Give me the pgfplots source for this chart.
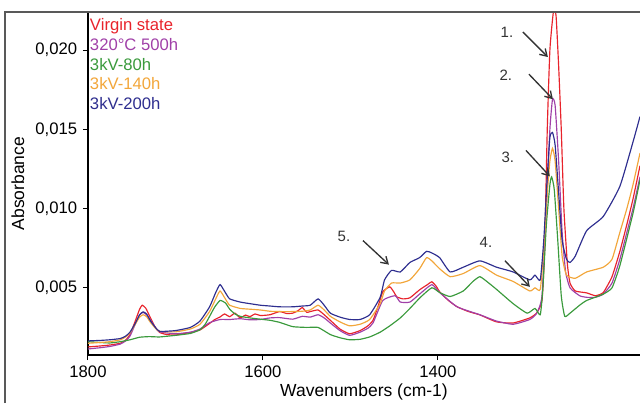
\documentclass[border=0pt]{standalone}
\usepackage{fontspec}
\setmainfont{Liberation Sans}
\usepackage{pgfplots}
\pgfplotsset{compat=1.18}
\usetikzlibrary{arrows.meta}

\definecolor{cRed}{HTML}{E8232B}
\definecolor{cPurple}{HTML}{A040A8}
\definecolor{cGreen}{HTML}{3A9A3C}
\definecolor{cOrange}{HTML}{F2A63A}
\definecolor{cBlue}{HTML}{2E2E8F}
\definecolor{cInk}{HTML}{333333}

\begin{document}
\begin{tikzpicture}
\begin{axis}[
  scale only axis, width=331.2pt, height=205.8pt,
  x dir=reverse, xmin=1169, xmax=1800, ymin=0.00076, ymax=0.0224,
  axis x line*=bottom, axis y line*=left,
  axis line style={line width=1.1pt, black},
  xtick={1400,1600,1800}, ytick={0.005,0.010,0.015,0.020},
  tick align=outside, major tick length=3pt,
  tick style={black, line width=0.6pt},
  /pgf/number format/assume math mode=true,
  tick label style={font=\fontsize{10}{12}\selectfont},
  x tick label style={/pgf/number format/set thousands separator={}},
  y tick label style={/pgf/number format/.cd, fixed, fixed zerofill, precision=3, use comma},
  scaled y ticks=false,
  xlabel={Wavenumbers (cm-1)}, ylabel={Absorbance},
  label style={font=\fontsize{10.5}{12}\selectfont},
  xlabel style={at={(axis description cs:0.5,-0.108)}, anchor=center},
  ylabel style={at={(axis description cs:-0.127,0.5)}, anchor=center},
  no markers,
  every axis plot/.append style={line width=0.7pt, smooth, tension=0.3},
  legend image code/.code={},
  legend cell align=left,
  legend style={at={(axis description cs:0,1)}, anchor=north west,
    xshift=1pt, yshift=-3pt, draw=none, fill=none, inner sep=0pt,
    row sep=1.8pt, column sep=0pt,
    font=\fontsize{10}{12}\selectfont,
    nodes={inner sep=0pt, text height=8pt, text depth=2pt}},
]
% Virgin state
\addplot[cRed] table {
1800 0.00127
1786 0.00133
1775 0.00139
1763 0.00150
1757 0.00170
1752 0.00205
1746 0.00290
1741 0.00365
1738 0.00390
1734 0.00372
1729 0.00315
1723 0.00250
1718 0.00218
1710 0.00205
1700 0.00202
1690 0.00212
1683 0.00218
1672 0.00234
1661 0.00275
1655 0.00300
1649 0.00316
1644 0.00335
1638 0.00318
1632 0.00340
1626 0.00310
1620 0.00328
1615 0.00318
1609 0.00335
1603 0.00325
1592 0.00330
1581 0.00350
1573 0.00338
1566 0.00340
1560 0.00355
1555 0.00375
1550 0.00345
1546 0.00350
1537 0.00360
1530 0.00330
1523 0.00295
1512 0.00240
1501 0.00210
1489 0.00230
1480 0.00260
1474 0.00297
1468 0.00390
1463 0.00475
1455 0.00506
1450 0.00470
1447 0.00443
1440 0.00430
1432 0.00437
1421 0.00487
1412 0.00520
1407 0.00538
1402 0.00510
1398 0.00475
1388 0.00420
1378 0.00380
1365 0.00350
1352 0.00329
1333 0.00285
1314 0.00278
1295 0.00310
1287 0.00342
1281 0.00420
1278 0.00750
1275 0.01500
1272 0.02000
1268 0.02240
1265 0.02220
1262 0.01900
1259 0.01500
1256 0.01000
1252 0.00650
1249 0.00530
1243 0.00480
1230 0.00468
1220 0.00450
1211 0.00470
1201 0.00570
1192 0.00730
1184 0.00900
1177 0.01060
1169 0.01270
};
\addlegendentry{\textcolor{cRed}{Virgin state}}
% 320 C 500h
\addplot[cPurple] table {
1800 0.00114
1786 0.00122
1775 0.00130
1763 0.00145
1757 0.00165
1752 0.00195
1746 0.00270
1741 0.00330
1737 0.00345
1733 0.00330
1729 0.00300
1723 0.00250
1718 0.00222
1700 0.00210
1683 0.00220
1672 0.00240
1661 0.00280
1649 0.00300
1638 0.00300
1626 0.00305
1615 0.00298
1603 0.00300
1592 0.00310
1581 0.00312
1566 0.00302
1555 0.00320
1546 0.00315
1537 0.00330
1530 0.00310
1523 0.00278
1512 0.00230
1501 0.00200
1489 0.00220
1480 0.00245
1474 0.00280
1463 0.00420
1449 0.00450
1443 0.00410
1432 0.00410
1421 0.00460
1407 0.00520
1398 0.00470
1378 0.00380
1352 0.00330
1333 0.00290
1314 0.00270
1295 0.00300
1287 0.00340
1281 0.00450
1276 0.01000
1272 0.01500
1269 0.01690
1266 0.01650
1262 0.01300
1258 0.00850
1254 0.00600
1249 0.00500
1238 0.00450
1230 0.00440
1220 0.00440
1211 0.00460
1201 0.00530
1192 0.00680
1184 0.00850
1177 0.01000
1169 0.01200
};
\addlegendentry{\textcolor{cPurple}{320°C 500h}}
% 3kV-80h
\addplot[cGreen] table {
1800 0.00160
1786 0.00155
1775 0.00152
1763 0.00160
1752 0.00172
1741 0.00188
1730 0.00192
1718 0.00190
1700 0.00200
1683 0.00212
1672 0.00235
1666 0.00270
1660 0.00330
1655 0.00380
1649 0.00420
1643 0.00405
1638 0.00365
1632 0.00335
1626 0.00320
1615 0.00310
1603 0.00302
1592 0.00295
1581 0.00282
1566 0.00255
1550 0.00250
1537 0.00250
1523 0.00205
1512 0.00185
1501 0.00172
1489 0.00175
1478 0.00190
1466 0.00220
1455 0.00260
1443 0.00310
1432 0.00370
1420 0.00440
1407 0.00500
1398 0.00470
1386 0.00445
1371 0.00480
1360 0.00540
1352 0.00570
1343 0.00535
1333 0.00490
1314 0.00400
1298 0.00340
1289 0.00370
1283 0.00330
1280 0.00500
1276 0.00900
1272 0.01150
1270 0.01200
1267 0.01120
1263 0.00800
1259 0.00450
1255 0.00320
1249 0.00340
1238 0.00390
1230 0.00420
1211 0.00460
1201 0.00500
1192 0.00640
1177 0.00970
1169 0.01180
};
\addlegendentry{\textcolor{cGreen}{3kV-80h}}
% 3kV-140h
\addplot[cOrange] table {
1800 0.00150
1786 0.00155
1775 0.00160
1763 0.00172
1757 0.00190
1752 0.00215
1746 0.00270
1741 0.00315
1737 0.00330
1733 0.00318
1729 0.00285
1723 0.00245
1718 0.00225
1700 0.00222
1683 0.00240
1672 0.00270
1661 0.00350
1654 0.00430
1649 0.00480
1643 0.00430
1638 0.00390
1626 0.00370
1615 0.00365
1603 0.00360
1592 0.00352
1581 0.00350
1566 0.00350
1555 0.00352
1546 0.00360
1537 0.00390
1530 0.00360
1523 0.00320
1512 0.00285
1501 0.00260
1489 0.00270
1478 0.00300
1466 0.00400
1461 0.00480
1453 0.00530
1443 0.00530
1432 0.00550
1421 0.00620
1413 0.00690
1407 0.00670
1398 0.00620
1386 0.00570
1371 0.00590
1352 0.00640
1333 0.00580
1314 0.00540
1295 0.00480
1289 0.00500
1283 0.00490
1279 0.00750
1275 0.01100
1272 0.01300
1269 0.01380
1266 0.01300
1262 0.01000
1258 0.00700
1253 0.00580
1243 0.00560
1230 0.00600
1211 0.00630
1201 0.00680
1192 0.00850
1184 0.01000
1177 0.01150
1169 0.01350
};
\addlegendentry{\textcolor{cOrange}{3kV-140h}}
% 3kV-200h
\addplot[cBlue] table {
1800 0.00165
1786 0.00168
1775 0.00172
1763 0.00180
1757 0.00195
1752 0.00220
1746 0.00275
1741 0.00330
1737 0.00348
1733 0.00335
1729 0.00295
1723 0.00250
1718 0.00225
1700 0.00230
1683 0.00250
1672 0.00290
1661 0.00380
1654 0.00470
1649 0.00520
1643 0.00470
1638 0.00430
1626 0.00410
1615 0.00400
1603 0.00390
1592 0.00385
1581 0.00380
1566 0.00380
1555 0.00385
1546 0.00390
1537 0.00430
1530 0.00390
1523 0.00340
1512 0.00315
1501 0.00300
1489 0.00300
1478 0.00330
1466 0.00440
1461 0.00550
1453 0.00610
1443 0.00600
1432 0.00660
1421 0.00690
1413 0.00730
1407 0.00720
1398 0.00690
1386 0.00600
1371 0.00630
1352 0.00670
1333 0.00630
1314 0.00600
1295 0.00550
1289 0.00580
1283 0.00550
1279 0.00800
1275 0.01200
1272 0.01450
1269 0.01480
1266 0.01400
1262 0.01100
1258 0.00800
1253 0.00680
1249 0.00660
1243 0.00700
1230 0.00860
1211 0.00950
1192 0.01140
1177 0.01420
1169 0.01580
};
\addlegendentry{\textcolor{cBlue}{3kV-200h}}

% annotations
\begin{scope}[cInk, line width=0.8pt, -{Straight Barb[length=4pt,width=5pt]}]
\draw (axis cs:1302.9,0.02114) -- (axis cs:1274.3,0.01956);
\draw (axis cs:1296.0,0.01848) -- (axis cs:1268.6,0.01690);
\draw (axis cs:1299.4,0.01367) -- (axis cs:1272.0,0.01203);
\draw (axis cs:1323.4,0.00671) -- (axis cs:1294.9,0.00506);
\draw (axis cs:1485.7,0.00798) -- (axis cs:1456.0,0.00646);
\end{scope}
\begin{scope}[every node/.style={text=cInk, font=\fontsize{9}{10}\selectfont}]
\node at (axis cs:1321.1,0.02114) {1.};
\node at (axis cs:1322.3,0.01842) {2.};
\node at (axis cs:1320.0,0.01323) {3.};
\node at (axis cs:1345.1,0.00785) {4.};
\node at (axis cs:1507.4,0.00823) {5.};
\end{scope}
\end{axis}
\draw[line width=1pt, black!65] (-49.8pt,-28.8pt) -- (-49.8pt,205.8pt) -- (331.2pt,205.8pt);
\pgfresetboundingbox
\path[use as bounding box] (-52.8pt,-28.8pt) rectangle (331.2pt,213pt);
\end{tikzpicture}
\end{document}
